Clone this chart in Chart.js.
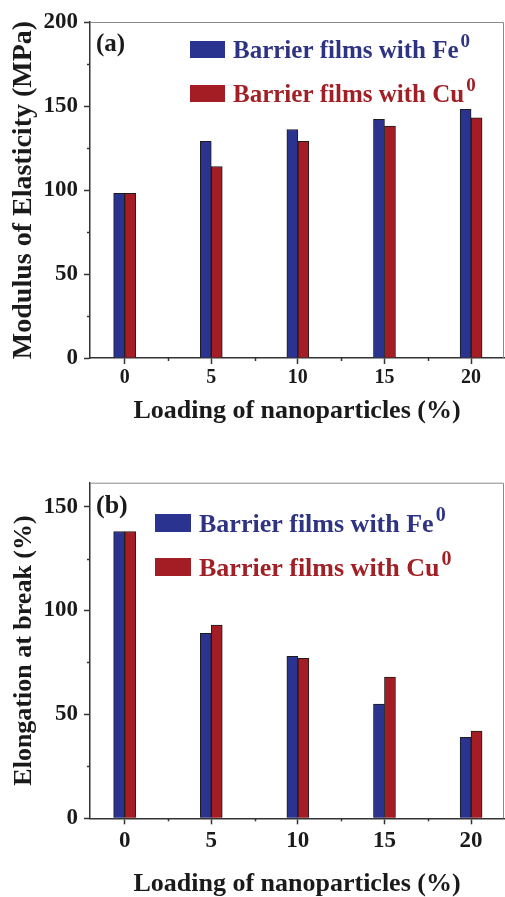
<!DOCTYPE html>
<html>
<head>
<meta charset="utf-8">
<script src="https://cdn.jsdelivr.net/npm/chart.js@4/dist/chart.umd.min.js"></script>
<style>
  html, body { margin: 0; padding: 0; background: #ffffff; overflow: hidden; }
  #wrap { position: relative; width: 505px; height: 897px; }
  canvas { position: absolute; left: 0; }
  #chartA { top: 0; }
  #chartB { top: 440px; }
</style>
</head>
<body>
<div id="wrap">
  <canvas id="chartA" width="505" height="440"></canvas>
  <canvas id="chartB" width="505" height="457"></canvas>
</div>
<script>
// Nanoparticle loading (%) on the x axis
const loading = [0, 5, 10, 15, 20];
const loadingTicks = [0, 5, 10, 15, 20];

// Series names (the oxidation-state "0" is drawn as a superscript)
const seriesNames = ['Barrier films with Fe', 'Barrier films with Cu'];
const seriesSup = ['0', '0'];

// (a) Modulus of elasticity, MPa
const modulusFe = [98, 129, 136, 142, 148];
const modulusCu = [98, 114, 129, 138, 143];
const modulusTicks = [0, 50, 100, 150, 200];

// (b) Elongation at break, %
const elongationFe = [138, 89, 78, 55, 39];
const elongationCu = [138, 93, 77, 68, 42];
const elongationTicks = [0, 50, 100, 150];

const FAMILY = '"Liberation Serif", "Times New Roman", Times, serif';
const INK = '#1a1a1a';
const AXIS = '#333333';
const FE_FILL = '#2b3390';
const CU_FILL = '#a51d24';
const FE_TEXT = '#2e3383';
const CU_TEXT = '#a11f25';

// Short unlabeled ticks halfway between the labelled ones
const minorTicks = {
  id: 'minorTicks',
  afterDraw(chart, args, o) {
    const ctx = chart.ctx;
    ctx.save();
    ctx.strokeStyle = o.color;
    ctx.lineWidth = o.width;
    ['x', 'y'].forEach(id => {
      const s = chart.scales[id];
      const vals = s.ticks.map(t => t.value);
      const mids = [];
      for (let i = 0; i < vals.length - 1; i++) mids.push((vals[i] + vals[i + 1]) / 2);
      if (vals.length > 1) {
        const step = vals[1] - vals[0];
        const after = vals[vals.length - 1] + step / 2;
        if (after < s.max) mids.push(after);
      }
      mids.forEach(v => {
        const p = Math.round(s.getPixelForValue(v)) + 0.5;
        ctx.beginPath();
        if (id === 'y') {
          ctx.moveTo(s.right, p);
          ctx.lineTo(s.right - o.length, p);
        } else {
          ctx.moveTo(p, s.top);
          ctx.lineTo(p, s.top + o.length);
        }
        ctx.stroke();
      });
    });
    ctx.restore();
  }
};

// Thin frame on the top and right of the plot area
const frame = {
  id: 'frame',
  beforeDatasetsDraw(chart, args, o) {
    const { top, right, left, bottom } = chart.chartArea;
    const ctx = chart.ctx;
    ctx.save();
    ctx.strokeStyle = o.color;
    ctx.lineWidth = o.width;
    ctx.beginPath();
    ctx.moveTo(left, top + 0.5);
    ctx.lineTo(right - 0.5, top + 0.5);
    ctx.lineTo(right - 0.5, bottom);
    ctx.stroke();
    ctx.restore();
  }
};

// Legend and panel tag drawn inside the plot area
const insetLegend = {
  id: 'insetLegend',
  afterDatasetsDraw(chart, args, o) {
    const ctx = chart.ctx;
    ctx.save();
    ctx.textAlign = 'left';
    ctx.textBaseline = 'alphabetic';
    ctx.font = `bold ${o.font}px ${FAMILY}`;
    ctx.fillStyle = INK;
    ctx.fillText(o.tag, o.tagX, o.tagY);
    chart.data.datasets.forEach((ds, i) => {
      const top = o.y + i * o.gap;
      ctx.fillStyle = ds.backgroundColor;
      ctx.fillRect(o.x, top, o.boxW, o.boxH);
      const tx = o.x + o.boxW + o.textGap;
      const base = top + o.boxH + o.baseShift;
      ctx.fillStyle = o.textColors[i];
      ctx.font = `bold ${o.font}px ${FAMILY}`;
      ctx.fillText(seriesNames[i], tx, base);
      const w = ctx.measureText(seriesNames[i]).width;
      ctx.font = `bold ${o.supSize}px ${FAMILY}`;
      ctx.fillText(seriesSup[i], tx + w + 2, base - o.supRise);
    });
    ctx.restore();
  }
};

function makePanel(canvas, p) {
  const bar = (i, values, fill) => ({
    label: seriesNames[i] + '\u2070',
    data: loading.map((x, k) => ({ x: x, y: values[k] })),
    backgroundColor: fill,
    borderColor: '#1c1c1c',
    borderWidth: 1,
    barThickness: 11
  });
  return new Chart(canvas, {
    type: 'bar',
    data: { datasets: [bar(0, p.fe, FE_FILL), bar(1, p.cu, CU_FILL)] },
    plugins: [frame, minorTicks, insetLegend],
    options: {
      responsive: false,
      animation: false,
      layout: { padding: { top: p.padTop, right: 1, left: 0, bottom: 0 } },
      plugins: {
        legend: { display: false },
        tooltip: { enabled: false },
        frame: { color: '#8a8a8a', width: 1 },
        minorTicks: { color: AXIS, width: 1.5, length: 3 },
        insetLegend: p.legend
      },
      scales: {
        x: {
          type: 'linear',
          min: -2,
          max: 21.9,
          offset: false,
          afterBuildTicks: s => { s.ticks = loadingTicks.map(v => ({ value: v })); },
          afterFit: s => { s.height = p.xAxisHeight; },
          grid: { offset: false, drawOnChartArea: false, drawTicks: true, tickLength: 6, tickColor: AXIS, tickWidth: 1.5 },
          border: { display: true, color: AXIS, width: 1.5 },
          ticks: {
            color: INK, padding: p.xTickPad, maxRotation: 0, autoSkip: false,
            font: { family: FAMILY, size: p.xTickSize, weight: 'bold' },
            callback: v => String(v)
          },
          title: {
            display: true, text: 'Loading of nanoparticles (%)', color: INK,
            font: { family: FAMILY, size: 26, weight: 'bold', lineHeight: 1 },
            padding: { top: 0, bottom: p.xTitlePad }
          }
        },
        y: {
          min: 0,
          max: p.yMax,
          afterBuildTicks: s => { s.ticks = p.yTicks.map(v => ({ value: v })); },
          afterFit: s => { s.width = 90; },
          grid: { drawOnChartArea: false, drawTicks: true, tickLength: 6, tickColor: AXIS, tickWidth: 1.5 },
          border: { display: true, color: AXIS, width: 1.5 },
          ticks: {
            color: INK, padding: 6,
            font: { family: FAMILY, size: 23, weight: 'bold' },
            callback: v => String(v)
          },
          title: {
            display: true, text: p.yTitle, color: INK,
            font: { family: FAMILY, size: p.yTitleSize, weight: 'bold', lineHeight: 1 },
            padding: { top: p.yTitlePad, bottom: 0 }
          }
        }
      }
    }
  });
}

makePanel(document.getElementById('chartA'), {
  fe: modulusFe, cu: modulusCu, yTicks: modulusTicks, yMax: 200,
  padTop: 22, xAxisHeight: 82, xTickSize: 20, xTickPad: 2, xTitlePad: 16,
  yTitle: 'Modulus of Elasticity (MPa)', yTitleSize: 28, yTitlePad: 10,
  legend: {
    tag: '(a)', tagX: 96, tagY: 51,
    x: 190, y: 41, boxW: 35, boxH: 17, gap: 44, textGap: 8,
    font: 25, supSize: 19, supRise: 11, baseShift: 0,
    textColors: [FE_TEXT, CU_TEXT]
  }
});

makePanel(document.getElementById('chartB'), {
  fe: elongationFe, cu: elongationCu, yTicks: elongationTicks, yMax: 161.5,
  padTop: 42.7, xAxisHeight: 78.7, xTickSize: 23, xTickPad: 3.4, xTitlePad: 0,
  yTitle: 'Elongation at break (%)', yTitleSize: 26, yTitlePad: 11,
  legend: {
    tag: '(b)', tagX: 96, tagY: 73,
    x: 155, y: 74, boxW: 36, boxH: 18, gap: 44, textGap: 8,
    font: 26, supSize: 20, supRise: 11, baseShift: 0,
    textColors: [FE_TEXT, CU_TEXT]
  }
});
</script>
</body>
</html>
